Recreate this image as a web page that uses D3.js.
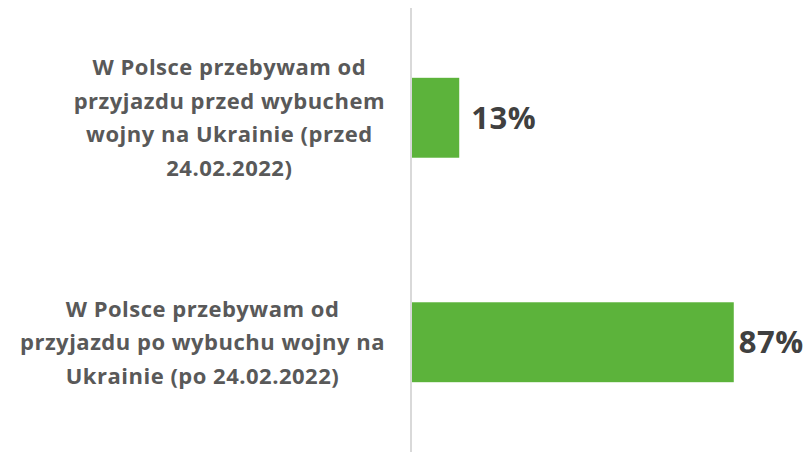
<!DOCTYPE html>
<html>
<head>
<meta charset="utf-8">
<script src="https://cdn.jsdelivr.net/npm/d3@7"></script>
<style>
  html, body { margin: 0; padding: 0; background: #fff; }
  svg { display: block; }
</style>
</head>
<body>
<div id="chart"></div>
<script>
// data
const categories = [
    ['W Polsce przebywam od', 'przyjazdu przed wybuchem', 'wojny na Ukrainie (przed', '24.02.2022)'],
    ['W Polsce przebywam od', 'przyjazdu po wybuchu wojny na', 'Ukrainie (po 24.02.2022)']
];
const values = [0.13, 0.87];
const valueLabels = ['13%', '87%'];

const width = 808, height = 453;
const axisX = 411;
const labelRight = 385;

const svg = d3.select('#chart')
    .append('svg')
    .attr('width', width)
    .attr('height', height);

const y = d3.scaleBand()
    .domain(d3.range(categories.length))
    .range([8, 452])
    .paddingInner(0.644)
    .paddingOuter(0.311);

const x = d3.scaleLinear()
    .domain([0, 1])
    .range([axisX, axisX + 371]);

// bars
svg.selectAll('rect.bar')
    .data(values)
    .enter()
    .append('rect')
    .attr('class', 'bar')
    .attr('x', x(0))
    .attr('y', (d, i) => y(i))
    .attr('width', d => x(d) - x(0))
    .attr('height', y.bandwidth())
    .attr('fill', '#5cb33b');

// axis line
svg.append('line')
    .attr('x1', axisX).attr('x2', axisX)
    .attr('y1', 8).attr('y2', 452)
    .attr('stroke', '#d9d9d9')
    .attr('stroke-width', 2);

// value labels (pulled back in if they would run off the right edge)
svg.selectAll('text.value')
    .data(values)
    .enter()
    .append('text')
    .attr('class', 'value')
    .attr('y', (d, i) => y(i) + y.bandwidth() / 2)
    .attr('dy', '0.36em')
    .style('font-family', '"Open Sans", sans-serif')
    .style('font-weight', 'bold')
    .style('font-size', '31px')
    .style('letter-spacing', '0.5px')
    .style('fill', '#404040')
    .text((d, i) => valueLabels[i])
    .attr('x', function(d) {
        const w = this.getComputedTextLength();
        return Math.max(x(d) + 5, Math.min(x(d) + 12, width - 6 - w));
    });

// category labels, lines centred inside a right-aligned block
const lineH = 33.5;
categories.forEach(function(lines, i) {
    const g = svg.append('g');
    const cy = y(i) + y.bandwidth() / 2;
    const texts = g.selectAll('text')
        .data(lines)
        .enter()
        .append('text')
        .attr('y', (d, j) => cy + (j - (lines.length - 1) / 2) * lineH)
        .attr('dy', '0.36em')
        .attr('text-anchor', 'middle')
        .style('font-family', '"Open Sans", sans-serif')
        .style('font-weight', 'bold')
        .style('font-size', '22px')
        .style('letter-spacing', '0.5px')
        .style('fill', '#595959')
        .text(d => d);
    let maxW = 0;
    texts.each(function() { maxW = Math.max(maxW, this.getComputedTextLength()); });
    texts.attr('x', labelRight - maxW / 2);
});
</script>
</body>
</html>
